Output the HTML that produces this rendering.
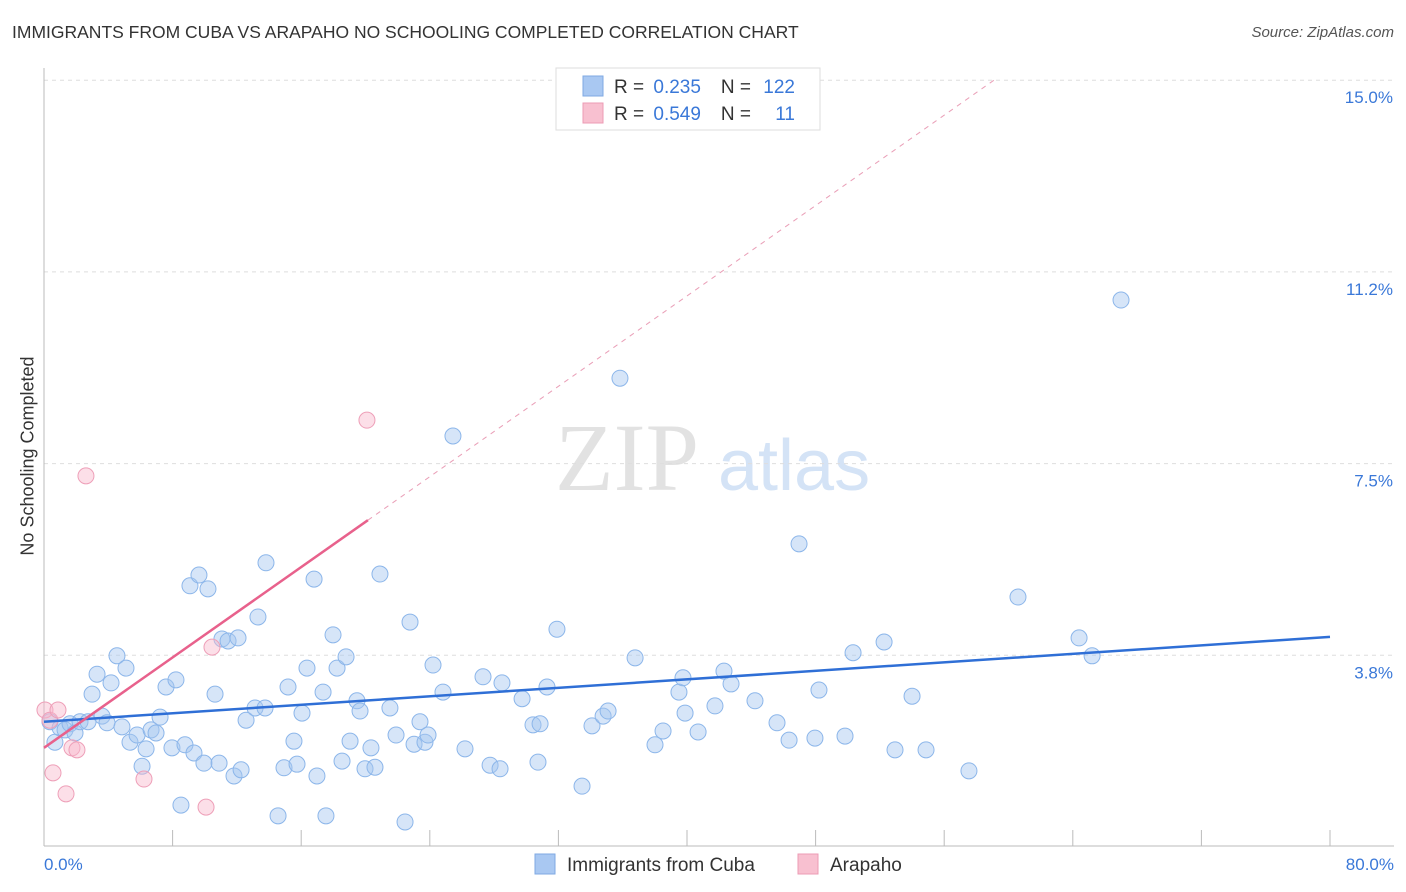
<!DOCTYPE html>
<html><head><meta charset="utf-8"><style>
body{margin:0;background:#fff;font-family:"Liberation Sans",sans-serif;}
#wrap{position:relative;width:1406px;height:892px;overflow:hidden;}
.t{position:absolute;white-space:nowrap;}
</style></head><body>
<div id="wrap">
<div class="t" style="left:12px;top:22px;font-size:17.5px;color:#333;">IMMIGRANTS FROM CUBA VS ARAPAHO NO SCHOOLING COMPLETED CORRELATION CHART</div>
<div class="t" style="right:12px;top:24px;font-size:15px;color:#555;font-style:italic;">Source: ZipAtlas.com</div>
<div class="t" style="left:0;top:456px;font-size:18px;color:#333;transform:translate(-50%,-50%) rotate(-90deg);margin-left:28px;">No Schooling Completed</div>
<svg id="svg" width="1406" height="892" style="position:absolute;left:0;top:0"></svg>
</div>
<script>
const blueX=[0.37,0.68,1.0,1.31,1.62,1.93,2.24,2.74,2.99,3.30,3.61,3.92,4.17,4.54,4.85,5.10,5.35,5.79,6.10,6.35,6.66,6.97,7.22,7.59,7.96,8.21,8.52,8.77,9.08,9.33,9.64,9.95,10.20,10.64,10.89,11.07,11.45,11.82,12.07,12.26,12.57,13.13,13.31,13.75,13.81,14.56,14.93,15.18,15.55,15.74,16.05,16.36,16.80,16.98,17.36,17.54,17.98,18.23,18.54,18.79,19.04,19.47,19.66,19.97,20.34,20.59,20.90,21.52,21.90,22.46,22.77,23.02,23.39,23.70,23.89,24.20,24.82,25.44,26.19,27.31,27.75,28.37,28.49,29.74,30.42,30.73,30.86,31.29,31.91,33.47,34.09,34.78,35.09,35.83,36.77,38.01,38.51,39.50,39.75,39.88,40.69,41.74,42.30,42.74,44.23,45.60,46.35,46.97,47.96,48.21,49.83,50.33,52.26,52.94,54.00,54.87,57.54,60.59,64.39,65.20,67.00];
const blueY=[2.45,2.05,2.33,2.29,2.41,2.23,2.45,2.45,2.99,3.38,2.56,2.43,3.21,3.74,2.35,3.50,2.05,2.19,1.58,1.92,2.29,2.23,2.54,3.13,1.94,3.27,0.82,2.00,5.11,1.84,5.32,1.64,5.05,2.99,1.64,4.07,4.03,1.39,4.09,1.51,2.48,2.72,4.50,2.72,5.56,0.61,1.55,3.13,2.07,1.62,2.62,3.50,5.24,1.39,3.03,0.61,4.15,3.50,1.68,3.72,2.07,2.86,2.66,1.53,1.94,1.56,5.34,2.72,2.19,0.49,4.40,2.01,2.45,2.05,2.19,3.56,3.03,8.04,1.92,3.33,1.60,1.53,3.21,2.90,2.39,1.66,2.41,3.13,4.26,1.19,2.37,2.56,2.66,9.17,3.70,2.00,2.27,3.03,3.31,2.62,2.25,2.76,3.44,3.19,2.86,2.43,2.09,5.93,2.13,3.07,2.17,3.80,4.01,1.90,2.95,1.90,1.49,4.89,4.09,3.74,10.70];
const pinkX=[0.06,0.37,0.56,0.87,1.37,1.74,2.05,2.61,6.22,10.08,10.45,20.09];
const pinkY=[2.68,2.48,1.45,2.68,1.04,1.94,1.90,7.26,1.33,0.78,3.91,8.35];
const blueFit=[2.45,0.02075]; // intercept, slope
const pinkFit=[1.94,0.221];
const pinkSolidEnd=20.15;
const yTicks=[3.8,7.5,11.2,15.0];
const yTickPos=[3.75,7.5,11.25,15.0];
const xTickLabels=["0.0%","80.0%"];

const X=v=>44+v/80*1286, Y=v=>847-v/3.75*191.7;
const svg=document.getElementById('svg'),NS='http://www.w3.org/2000/svg';
function mk(t,a,p){const e=document.createElementNS(NS,t);for(const k in a)e.setAttribute(k,a[k]);(p||svg).appendChild(e);return e;}
let w=mk('text',{x:555,y:490,'font-family':'Liberation Serif,serif','font-size':96,fill:'#e2e2e2'});w.textContent='ZIP';


w=mk('text',{x:718,y:490,'font-family':'Liberation Sans,sans-serif','font-size':72,fill:'#d4e3f6'});w.textContent='atlas';


yTickPos.forEach((v,i)=>{
 const g=mk('line',{x1:44,x2:1394,y1:Y(v),y2:Y(v),stroke:'#dedede','stroke-dasharray':'4,4'});
 
 
 const t=mk('text',{x:1393,y:Y(v)+23,'text-anchor':'end','font-size':17,fill:'#3a78d8','font-family':'Liberation Sans,sans-serif'});
 t.textContent=yTicks[i].toFixed(1)+'%';
 
 
});
let a=mk('line',{x1:44,x2:44,y1:68,y2:846,stroke:'#bbb'});


a=mk('line',{x1:44,x2:1394,y1:846,y2:846,stroke:'#bbb'});


for(let i=1;i<=10;i++){const tk=mk('line',{x1:X(i*8),x2:X(i*8),y1:830,y2:846,stroke:'#bbb'});
 
 }
[[0,'start',44],[80,'end',1394]].forEach((d,i)=>{const t=mk('text',{x:d[2],y:870,'text-anchor':d[1],'font-size':17,fill:'#3a78d8','font-family':'Liberation Sans,sans-serif'});t.textContent=xTickLabels[i];
 
 });
function pts(xs,ys,fill,stroke,name){xs.forEach((x,i)=>{const c=mk('circle',{cx:X(x),cy:Y(ys[i]),r:8,fill:fill,stroke:stroke,'stroke-width':1});
 
 });}
pts(blueX,blueY,'rgba(165,198,240,0.45)','#8cb6ea','cuba-point');
pts(pinkX,pinkY,'rgba(248,185,205,0.45)','#ee9fb8','arapaho-point');
let l=mk('line',{x1:X(0),y1:Y(blueFit[0]),x2:X(80),y2:Y(blueFit[0]+blueFit[1]*80),stroke:'#2f6fd6','stroke-width':2.5});


const pEnd=(15.0-pinkFit[0])/pinkFit[1];
l=mk('line',{x1:X(pinkSolidEnd),y1:Y(pinkFit[0]+pinkFit[1]*pinkSolidEnd),x2:X(pEnd),y2:Y(15.0),stroke:'#eaa0b8','stroke-width':1,'stroke-dasharray':'5,5'});


l=mk('line',{x1:X(0),y1:Y(pinkFit[0]),x2:X(pinkSolidEnd),y2:Y(pinkFit[0]+pinkFit[1]*pinkSolidEnd),stroke:'#e8618c','stroke-width':2.5});


const lg=mk('g',{});


mk('rect',{x:556,y:68,width:264,height:62,fill:'#fff',stroke:'#ddd'},lg);
[['#a9c8f2','#7fa9e3','0.235','122',86],['#f8c0d0','#ec9bb4','0.549','11',113]].forEach(r=>{
 mk('rect',{x:583,y:r[4]-10,width:20,height:20,fill:r[0],stroke:r[1]},lg);
 const t=mk('text',{x:614,y:r[4]+7,'font-size':19,fill:'#333','font-family':'Liberation Sans,sans-serif'},lg);
 t.innerHTML='R = <tspan fill="#3a78d8" dx="4">'+r[2]+'</tspan><tspan dx="20">N =</tspan>';
 const n=mk('text',{x:795,y:r[4]+7,'text-anchor':'end','font-size':19,fill:'#3a78d8','font-family':'Liberation Sans,sans-serif'},lg);n.textContent=r[3];
});
[['#a9c8f2','#7fa9e3','Immigrants from Cuba',535,'legend-cuba'],['#f8c0d0','#ec9bb4','Arapaho',798,'legend-arapaho']].forEach(r=>{
 const g=mk('g',{});
 
 
 mk('rect',{x:r[3],y:854,width:20,height:20,fill:r[0],stroke:r[1]},g);
 const t=mk('text',{x:r[3]+32,y:871,'font-size':19,fill:'#333','font-family':'Liberation Sans,sans-serif'},g);t.textContent=r[2];
});
</script>
</body></html>
